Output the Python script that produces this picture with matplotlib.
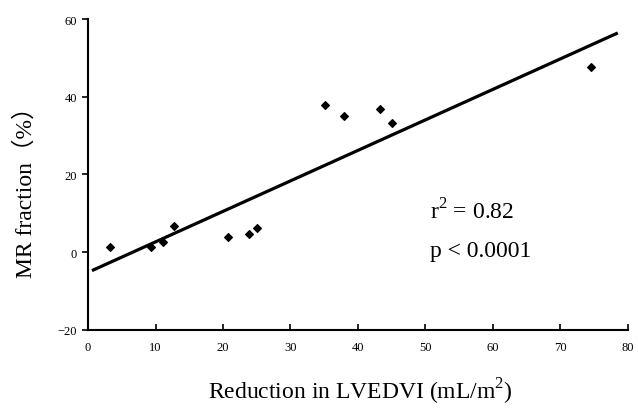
import matplotlib
matplotlib.use("Agg")
import numpy as np
import matplotlib.pyplot as plt

plt.rcParams["font.family"] = ["Liberation Serif", "Noto Sans CJK JP"]
plt.rcParams["mathtext.fontset"] = "custom"
plt.rcParams["mathtext.rm"] = "Liberation Serif"

# data
lvedvi_reduction = [3.3, 9.4, 11.1, 12.8, 20.8, 23.8, 25.1, 35.1, 38.0, 43.3, 45.0, 74.5]
mr_fraction = [1.4, 1.4, 2.5, 6.7, 3.8, 4.6, 6.2, 37.9, 35.1, 36.8, 33.3, 47.7]

# regression line end points
fit_x = [0.8, 78.3]
fit_slope = 0.785
fit_intercept = -5.2

x_ticks = [0, 10, 20, 30, 40, 50, 60, 70, 80]
y_ticks = [-20, 0, 20, 40, 60]

fig = plt.figure(figsize=(6.38, 4.10), dpi=100)
ax = fig.add_axes([0.138, 0.193, 0.846, 0.758])

ax.scatter(lvedvi_reduction, mr_fraction, marker="D", s=15, color="black", zorder=3)
fx = np.array(fit_x)
ax.plot(fx, fit_slope * fx + fit_intercept, color="black", lw=2.3)

ax.set_xlim(0, 80)
ax.set_ylim(-20, 60)
ax.set_xticks(x_ticks)
ax.set_yticks(y_ticks)
ax.tick_params(axis="x", direction="in", length=4, width=1.2, labelsize=9, pad=8)
ax.tick_params(axis="y", direction="out", length=4, width=1.2, labelsize=9, pad=4)

for side in ["top", "right"]:
    ax.spines[side].set_visible(False)
for side in ["left", "bottom"]:
    ax.spines[side].set_linewidth(1.5)

ax.text(50.7, 10.7, "r$^{2}$ = 0.82", fontsize=17, va="center", ha="left")
ax.text(50.7, 0.5, "p < 0.0001", fontsize=17, va="center", ha="left")

fig.text(0.565, 0.045, "Reduction in LVEDVI (mL/m$^{2}$)", fontsize=17, ha="center", va="center")
fig.text(0.04, 0.545, "MR fraction（%）", fontsize=17, rotation=90, ha="center", va="center")

fig.savefig("out.png", dpi=100)
